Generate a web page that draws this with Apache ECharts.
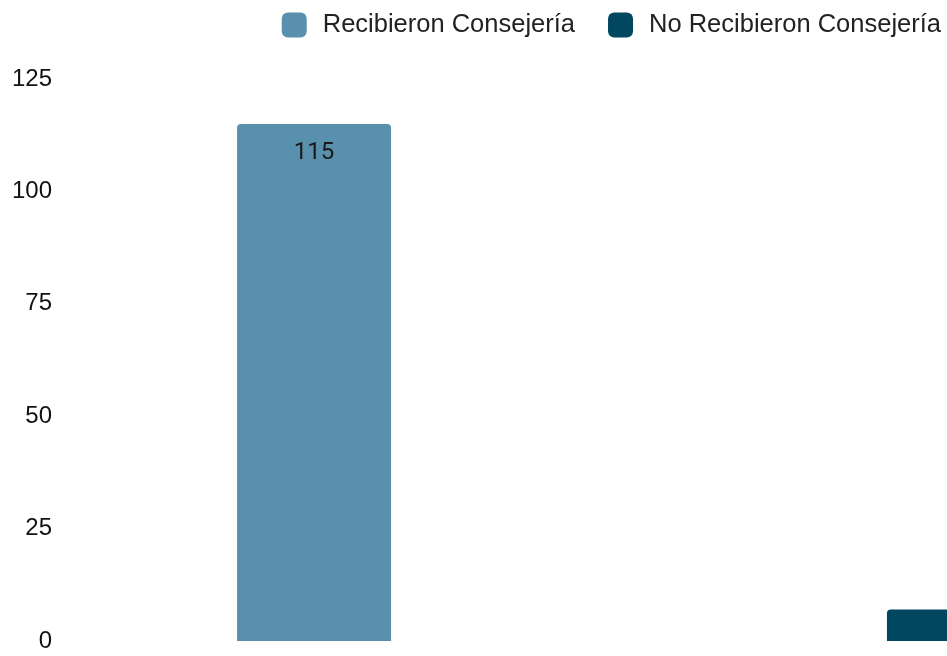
<!DOCTYPE html>
<html>
<head>
<meta charset="utf-8">
<script src="https://cdn.jsdelivr.net/npm/echarts@6/dist/echarts.min.js"></script>
<style>
  html, body { margin: 0; padding: 0; background: #fff; }
  #chart { width: 947px; height: 656px; }
</style>
</head>
<body>
<div id="chart"></div>
<script>
// datos del grafico
const categorias = ['Consejería'];
const nombresSeries = ['Recibieron Consejería', 'No Recibieron Consejería'];
const recibieron = [115];
const noRecibieron = [7];
const colores = ['#5990ae', '#00475f'];

const chart = echarts.init(document.getElementById('chart'));

const option = {
  animation: false,
  color: colores,
  legend: {
    data: nombresSeries,
    right: 1,
    top: 7,
    itemWidth: 25,
    itemHeight: 25,
    itemGap: 33,
    icon: 'roundRect',
    textStyle: { fontFamily: 'Liberation Sans', fontSize: 25.5, color: '#222', padding: [0, 0, 0, 11] }
  },
  // la grilla es mas ancha que el lienzo: la segunda barra queda recortada
  grid: {
    left: 60,
    width: 1158,
    top: 79,
    bottom: 15,
    containLabel: false,
    outerBoundsMode: 'none'
  },
  xAxis: {
    type: 'category',
    data: categorias,
    axisLine: { show: false },
    axisTick: { show: false },
    axisLabel: { show: false }
  },
  yAxis: {
    type: 'value',
    min: 0,
    max: 125,
    interval: 25,
    splitLine: { show: false },
    axisLine: { show: false },
    axisTick: { show: false },
    axisLabel: { fontFamily: 'Liberation Sans', fontSize: 24, color: '#111', margin: 8 }
  },
  series: [
    {
      name: nombresSeries[0],
      type: 'bar',
      data: recibieron,
      barWidth: 154,
      barGap: '322%',
      itemStyle: { borderRadius: [4, 4, 0, 0] },
      label: {
        show: true,
        position: 'insideTop',
        distance: 17,
        fontFamily: 'Roboto',
        fontSize: 24,
        color: '#1a1a1a'
      }
    },
    {
      name: nombresSeries[1],
      type: 'bar',
      data: noRecibieron,
      barWidth: 154,
      itemStyle: { borderRadius: [4, 4, 0, 0] },
      label: {
        show: true,
        position: 'insideTop',
        distance: 17,
        fontFamily: 'Roboto',
        fontSize: 24,
        color: '#fff'
      }
    }
  ]
};

chart.setOption(option);
</script>
</body>
</html>
